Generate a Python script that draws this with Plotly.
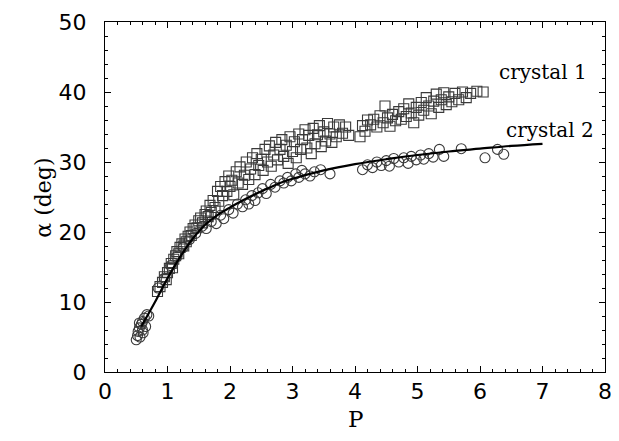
import plotly.graph_objects as go

# crystal 1 (open squares)
c1_p = [0.84,0.88,0.92,0.95,0.98,1.0,1.03,1.06,1.08,1.1,1.13,1.15,1.18,1.2,1.23,1.26,1.28,1.3,1.33,1.36,1.38,1.41,1.44,1.47,1.5,1.53,1.56,1.6,
        1.62,1.65,1.68,1.7,1.73,1.76,1.8,1.82,1.85,1.88,1.92,1.95,1.98,2.0,2.03,2.06,2.1,2.13,2.16,2.2,2.23,2.26,2.3,2.33,2.36,2.4,2.43,2.46,
        2.5,2.53,2.56,2.6,2.63,2.66,2.7,2.73,2.76,2.8,2.83,2.86,2.9,2.93,2.96,3.0,3.03,3.06,3.1,3.13,3.16,3.2,3.23,3.26,3.3,3.33,3.36,3.4,3.43,3.46,3.5,3.53,3.56,3.6,3.63,3.66,3.7,3.75,3.8,3.85,3.9,
        4.08,4.12,4.16,4.2,4.25,4.3,4.35,4.4,4.45,4.48,4.52,4.56,4.6,4.65,4.7,4.74,4.78,4.82,4.86,4.9,4.94,4.98,5.02,5.06,5.1,5.14,5.18,5.22,5.26,5.3,5.34,5.38,5.42,5.46,5.5,5.55,5.6,5.66,5.72,5.78,5.85,5.95,6.05]
c1_a = [11.5,12.2,12.8,13.6,13.2,14.2,14.8,15.5,14.9,16.1,16.6,17.2,16.9,17.8,18.3,18.0,19.0,18.6,19.4,20.0,19.5,20.5,21.0,20.6,21.6,22.0,21.3,22.5,
        23.0,22.2,23.8,22.8,24.5,23.5,25.8,24.4,26.5,25.2,27.2,25.8,28.0,26.5,27.4,25.3,28.6,27.0,29.3,26.8,28.1,30.0,27.5,29.0,30.6,28.2,31.2,29.5,
        30.4,28.8,31.8,30.0,32.3,29.4,31.0,32.8,30.3,31.8,33.2,30.8,32.4,29.8,33.6,31.5,32.9,30.6,34.0,31.8,33.2,34.6,32.0,33.8,31.2,34.8,32.6,33.9,35.2,32.2,34.3,33.0,35.5,34.0,32.8,35.0,33.6,35.3,34.1,35.0,33.8,
        33.6,35.2,34.4,36.0,35.3,36.1,35.0,36.6,35.6,38.0,36.3,35.1,36.8,35.9,37.2,36.1,37.6,36.5,38.3,37.0,35.6,37.8,36.7,38.5,37.4,39.2,38.0,36.9,38.7,39.7,37.8,38.9,39.9,38.2,39.3,38.6,39.8,38.9,40.0,39.2,39.8,40.1,40.0]

# crystal 2 (open circles)
c2_p = [0.5,0.52,0.53,0.55,0.56,0.58,0.6,0.61,0.63,0.65,0.67,0.55,0.6,0.7,
        0.85,0.95,1.05,1.15,1.25,1.35,1.45,1.55,1.62,1.7,1.78,1.85,1.9,1.98,2.05,2.12,2.2,2.25,2.3,2.35,2.4,2.45,
        2.52,2.58,2.65,2.72,2.8,2.86,2.92,2.98,3.05,3.1,3.15,3.2,3.28,3.35,3.45,3.6,
        4.12,4.2,4.28,4.35,4.42,4.5,4.55,4.62,4.7,4.78,4.85,4.9,4.98,5.05,5.1,5.18,5.25,5.35,5.42,5.7,6.08,6.28,6.38]
c2_a = [4.6,5.2,5.8,6.3,5.0,6.8,7.2,5.6,7.7,6.5,8.2,7.0,6.0,8.0,
        12.0,13.4,15.2,16.5,17.8,18.9,19.8,20.8,20.5,21.5,21.2,22.4,21.9,23.2,22.7,24.0,23.6,24.6,24.0,25.2,24.5,25.6,
        26.2,25.5,26.8,26.4,27.3,27.0,27.8,27.3,28.3,27.8,28.8,28.3,28.0,28.6,28.9,28.3,
        28.9,29.6,29.2,30.0,29.5,30.2,29.4,30.5,30.0,30.6,29.8,30.8,30.3,31.0,30.4,31.2,30.7,31.8,30.8,31.9,30.6,31.8,31.1]

# fitted curve for crystal 2
fit_p = [0.58,0.8,1.0,1.2,1.4,1.6,1.8,2.0,2.2,2.4,2.6,2.8,3.0,3.5,4.0,4.5,5.0,5.5,6.0,6.5,7.0]
fit_a = [6.5,10.0,13.4,16.4,19.0,21.0,22.4,23.5,24.5,25.4,26.2,27.0,27.6,28.8,29.7,30.4,31.0,31.5,31.9,32.3,32.6]

x_ticks = [0,1,2,3,4,5,6,7,8]
y_ticks = [0,10,20,30,40,50]

SERIF = "DejaVu Serif, serif"
SANS = "DejaVu Sans, sans-serif"

fig = go.Figure()
fig.add_trace(go.Scatter(x=c1_p, y=c1_a, mode="markers",
                         marker=dict(symbol="square-open", size=10, color="#3a3a3a", line=dict(width=1.1)),
                         showlegend=False))
fig.add_trace(go.Scatter(x=c2_p, y=c2_a, mode="markers",
                         marker=dict(symbol="circle-open", size=10, color="#3a3a3a", line=dict(width=1.1)),
                         showlegend=False))
fig.add_trace(go.Scatter(x=fit_p, y=fit_a, mode="lines", line=dict(color="black", width=2.2, shape="spline"),
                         showlegend=False))

fig.add_annotation(x=7.01, y=42.8, xref="x", yref="y", text="crystal 1", showarrow=False,
                   xanchor="center", yanchor="middle",
                   font=dict(family=SERIF, size=20, color="black"))
fig.add_annotation(x=7.12, y=34.6, xref="x", yref="y", text="crystal 2", showarrow=False,
                   xanchor="center", yanchor="middle",
                   font=dict(family=SERIF, size=20, color="black"))
fig.add_annotation(x=-0.122, y=0.498, xref="paper", yref="paper", text="α (deg)", showarrow=False,
                   xanchor="center", yanchor="middle",
                   textangle=-90, font=dict(family=SERIF, size=22, color="black"))
fig.add_annotation(x=0.5, y=-0.135, xref="paper", yref="paper", text="P", showarrow=False,
                   xanchor="center", yanchor="middle",
                   font=dict(family=SERIF, size=23, color="black"))

axis_common = dict(showgrid=False, zeroline=False, showline=True, linecolor="black", linewidth=1,
                   mirror="allticks", ticks="inside", ticklen=6, tickwidth=1, tickcolor="black",
                   tickfont=dict(family=SANS, size=22, color="black"))

fig.update_xaxes(range=[0, 8], tickvals=x_ticks, ticktext=[str(v) for v in x_ticks],
                 minor=dict(dtick=0.2, ticks="inside", ticklen=3, tickcolor="black", tickwidth=1),
                 **axis_common)
fig.update_yaxes(range=[0, 50], tickvals=y_ticks, ticktext=[str(v) for v in y_ticks],
                 minor=dict(dtick=2, ticks="inside", ticklen=3, tickcolor="black", tickwidth=1),
                 ticklabelstandoff=13,
                 **axis_common)

# page body adds an 8px margin, so the figure is 8px smaller
fig.update_layout(width=611, height=433, margin=dict(l=97, r=14, t=14, b=69, autoexpand=False),
                  plot_bgcolor="white", paper_bgcolor="white")

fig.write_html("out.html")
